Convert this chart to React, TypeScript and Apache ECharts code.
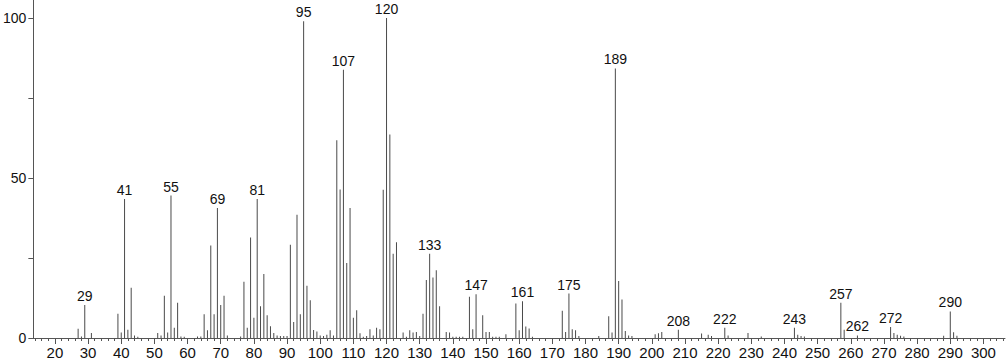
import React, { useEffect, useRef } from "react";
import * as echarts from "echarts";

// m/z values and relative intensities (%)
const mz: number[] = [
  27, 28, 29, 31, 39, 40, 41, 42, 43, 44, 45, 51, 52, 53, 54, 55, 56, 57, 58, 59,
  63, 64, 65, 66, 67, 68, 69, 70, 71, 72, 76, 77, 78, 79, 80, 81, 82, 83, 84, 85,
  86, 87, 88, 89, 90, 91, 92, 93, 94, 95, 96, 97, 98, 99, 100, 101, 102, 103, 104, 105,
  106, 107, 108, 109, 110, 111, 112, 113, 114, 115, 116, 117, 118, 119, 120, 121, 122, 123, 125, 126,
  127, 128, 129, 130, 131, 132, 133, 134, 135, 136, 138, 139, 140, 141, 142, 143, 145, 146, 147, 149,
  150, 151, 152, 153, 154, 156, 159, 160, 161, 162, 163, 164, 173, 174, 175, 176, 177, 178, 184, 187,
  188, 189, 190, 191, 192, 193, 194, 201, 202, 203, 208, 215, 217, 218, 222, 223, 229, 233, 243, 244,
  245, 246, 257, 258, 262, 272, 273, 274, 275, 276, 288, 290, 291, 292,
];
const intensity: number[] = [
  2.9, 0.5, 10.3, 1.6, 7.6, 1.7, 43.4, 2.6, 15.7, 0.8, 0.4, 1.6, 0.8, 13.2, 1.7, 44.5, 3.2, 11, 0.5, 0.4,
  0.5, 0.5, 7.4, 2.4, 28.9, 7.4, 40.6, 10.3, 13.2, 0.8, 0.5, 17.6, 3.2, 31.4, 6.3, 43.4, 9.9, 20, 7.1, 3.7,
  1.6, 0.8, 0.6, 0.6, 0.6, 29.1, 5, 38.5, 7.4, 99, 16.3, 11.8, 2.5, 2.0, 0.8, 0.6, 1, 2.4, 0.8, 61.8,
  46.4, 83.8, 23.4, 40.6, 6.3, 8.7, 1.5, 0.4, 0.6, 2.7, 0.8, 3.2, 2.7, 46.3, 100, 63.6, 26.3, 29.9, 1.7, 0.4,
  2.4, 1.7, 1.9, 0.6, 7.6, 18.1, 26.3, 18.9, 21.2, 9.9, 1.9, 1.7, 0.4, 0.4, 0.4, 0.4, 12.9, 2.7, 13.7, 7.1,
  1.9, 1.9, 0.4, 0.4, 0.4, 1.2, 10.8, 2.4, 11.5, 3.6, 3.0, 0.4, 8.5, 1.9, 13.9, 2.7, 2.4, 0.6, 0.6, 6.8,
  1.7, 84.2, 17.8, 12, 2.2, 0.8, 0.6, 1.2, 1.5, 1.9, 2.6, 1.4, 1.0, 0.6, 3.2, 0.8, 1.6, 0.5, 3.2, 1.0,
  0.6, 0.5, 11, 2.6, 0.8, 3.4, 1.6, 1.0, 0.7, 0.5, 0.7, 8.3, 1.8, 0.7,
];
const labeledPeaks: number[] = [
  29, 41, 55, 69, 81, 95, 107, 120, 133, 147, 161, 175, 189, 208, 222, 243, 257, 262, 272, 290,
];
const xMajorTicks: number[] = [
  20, 30, 40, 50, 60, 70, 80, 90, 100, 110, 120, 130, 140, 150, 160, 170, 180, 190, 200,
  210, 220, 230, 240, 250, 260, 270, 280, 290, 300,
];
const xMinorTicks: number[] = [
  14, 16, 18, 22, 24, 26, 28, 32, 34, 36, 38, 42, 44, 46, 48, 52, 54, 56, 58, 62, 64, 66, 68,
  72, 74, 76, 78, 82, 84, 86, 88, 92, 94, 96, 98, 102, 104, 106, 108, 112, 114, 116, 118,
  122, 124, 126, 128, 132, 134, 136, 138, 142, 144, 146, 148, 152, 154, 156, 158, 162, 164, 166, 168,
  172, 174, 176, 178, 182, 184, 186, 188, 192, 194, 196, 198, 202, 204, 206, 208, 212, 214, 216, 218,
  222, 224, 226, 228, 232, 234, 236, 238, 242, 244, 246, 248, 252, 254, 256, 258, 262, 264, 266, 268,
  272, 274, 276, 278, 282, 284, 286, 288, 292, 294, 296, 298, 302, 304, 306,
];
const yTicks: number[] = [0, 25, 50, 75, 100];
const yLabels: number[] = [0, 50, 100];

const FONT = "'Liberation Sans', Arial, Helvetica, sans-serif";
const X_MIN = 13.5;
const X_MAX = 306.5;

export default function App() {
  const ref = useRef<HTMLDivElement>(null);

  useEffect(() => {
    document.body.style.margin = "0";
    if (!ref.current) return;
    const chart = echarts.init(ref.current, undefined, { renderer: "svg" });

    const data = mz.map((m, i) => {
      const item: any = { value: [m, intensity[i]] };
      if (labeledPeaks.includes(m)) {
        item.label = {
          show: true,
          position: "top",
          distance: 2,
          formatter: String(m),
          fontSize: 14,
          color: "#111",
          fontFamily: FONT,
        };
      }
      return item;
    });

    chart.setOption({
      animation: false,
      backgroundColor: "#ffffff",
      grid: { left: 30, right: 2, top: 0, bottom: 24, containLabel: false },
      xAxis: [
        {
          type: "value",
          position: "bottom",
          min: X_MIN,
          max: X_MAX,
          axisLine: { show: true, lineStyle: { color: "#555", width: 1 } },
          axisTick: {
            show: true,
            customValues: xMajorTicks,
            length: 6,
            lineStyle: { color: "#555", width: 1 },
          },
          axisLabel: {
            show: true,
            customValues: xMajorTicks,
            fontSize: 15,
            color: "#111",
            fontFamily: FONT,
            margin: 7,
          },
          splitLine: { show: false },
        },
        {
          type: "value",
          position: "bottom",
          min: X_MIN,
          max: X_MAX,
          axisLine: { show: false },
          axisTick: {
            show: true,
            customValues: xMinorTicks,
            length: 3,
            lineStyle: { color: "#555", width: 1 },
          },
          axisLabel: { show: false },
          splitLine: { show: false },
        },
      ],
      yAxis: {
        type: "value",
        min: 0,
        max: 105.6,
        axisLine: { show: true, lineStyle: { color: "#555", width: 1 } },
        axisTick: {
          show: true,
          customValues: yTicks,
          length: 5,
          lineStyle: { color: "#555", width: 1 },
        },
        axisLabel: {
          show: true,
          customValues: yLabels,
          fontSize: 14,
          color: "#111",
          fontFamily: FONT,
          margin: 7,
        },
        splitLine: { show: false },
      },
      series: [
        {
          type: "bar",
          xAxisIndex: 0,
          barWidth: 1,
          itemStyle: { color: "#4a4a4a" },
          data,
        },
      ],
    });

    return () => chart.dispose();
  }, []);

  return (
    <div
      ref={ref}
      style={{ position: "absolute", left: 0, top: 0, width: 1007, height: 362 }}
    />
  );
}
